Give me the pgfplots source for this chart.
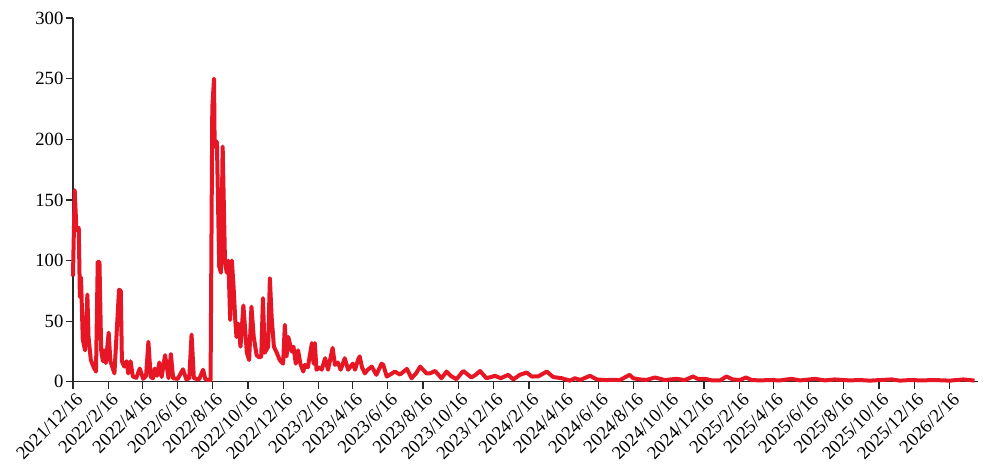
\documentclass[border=0pt]{standalone}
\usepackage{pgfplots}
\pgfplotsset{compat=1.18}
\usepackage{fontspec}
\setmainfont{Liberation Serif}
\definecolor{lineRed}{RGB}{230,22,36}
\definecolor{axisGray}{RGB}{40,40,40}

\begin{document}
\begin{tikzpicture}
\begin{axis}[
  scale only axis,
  width=679pt, height=273pt,
  xmin=0, xmax=1572,
  ymin=0, ymax=300,
  axis lines*=left,
  axis line style={axisGray, line width=0.9pt},
  ytick={0,50,...,300},
  xtick={0,62,121,182,243,304,365,427,486,547,608,669,730,792,852,913,974,1035,1096,1158,1217,1278,1339,1400,1461,1523},
  xticklabels={2021/12/16,2022/2/16,2022/4/16,2022/6/16,2022/8/16,2022/10/16,2022/12/16,2023/2/16,2023/4/16,2023/6/16,2023/8/16,2023/10/16,2023/12/16,2024/2/16,2024/4/16,2024/6/16,2024/8/16,2024/10/16,2024/12/16,2025/2/16,2025/4/16,2025/6/16,2025/8/16,2025/10/16,2025/12/16,2026/2/16},
  tick align=outside,
  major tick length=5pt,
  tick style={axisGray, line width=0.9pt},
  x tick label style={rotate=45, anchor=north east, inner sep=0.5pt, yshift=-2pt},
  y tick label style={inner sep=2pt},
  ticklabel style={font=\fontsize{14}{16}\selectfont},
  /pgf/number format/assume math mode=true,
  clip=false,
]
\addplot[lineRed, line width=3pt, line join=round] coordinates {
(0,87) (3,158) (6,125) (10,127) (12,70) (14,86) (17,35) (21,26) (25,72) (27,37)
(31,18) (36,12) (40,8.5) (43,99) (46,99) (49,26) (52,17) (54,26) (57,15.5) (62,40.6)
(65,17) (72,7) (80,76) (83,75) (85,17) (89,12.6) (93,17) (96,7) (100,17) (104,4.4)
(110,3.3) (116,11) (122,2.5) (127,5) (131,33) (135,4) (139,3) (142,11) (146,5) (150,16)
(154,4) (160,22) (166,3) (170,23) (174,3) (182,2.5) (191,10.4) (197,2) (202,3) (206,39)
(210,3) (219,2) (226,10) (230,2) (237,1.6) (239,1.5) (242,226) (245,250) (246,198) (249,193)
(250,198) (254,95) (257,90) (260,194) (264,100) (267,90) (270,100) (273,51) (276,100) (279,78)
(282,50) (284,37) (287,48) (291,29) (296,63) (302,24) (306,18) (310,62) (314,37) (319,22)
(324,20) (327,21) (330,69) (333,24) (339,29) (342,85.5) (345,54) (349,29) (354,24) (359,18)
(365,15) (368,47) (371,21) (374,37) (380,25) (383,29) (387,15) (391,26) (395,15) (400,8.5)
(403,14) (408,12) (415,32) (418,15) (420,32) (423,10) (429,12) (432,10) (438,19.5) (443,10)
(451,28) (455,14) (460,16) (465,10) (472,19.5) (478,10) (486,15) (490,10) (495,18) (498,21)
(502,12) (507,7) (512,10) (519,12.6) (527,5.8) (536,15) (539,14) (545,4.4) (551,6) (559,8.5)
(568,6) (580,10.7) (588,3) (596,7) (603,12.6) (614,7) (620,7) (629,9) (640,3) (649,8.5)
(656,5) (666,2.2) (678,9) (692,3.6) (700,6) (707,9) (718,3) (726,4) (733,5) (743,3)
(756,5.8) (765,2) (776,5.8) (788,7.7) (797,4.4) (808,4.5) (823,8.5) (834,4) (849,3) (863,1)
(872,3) (881,1.6) (898,5) (910,2) (924,1.5) (938,1.6) (950,1.5) (967,5.8) (973,3) (985,2)
(996,1.6) (1011,3.6) (1028,1.5) (1048,2.5) (1063,1.5) (1077,4.4) (1085,2.5) (1098,2.5) (1110,1.2) (1124,1.2)
(1135,4.4) (1146,2) (1158,1.5) (1169,3.6) (1179,1.5) (1193,1.2) (1211,1.5) (1228,1.2) (1248,2.5) (1263,1.2)
(1289,2.5) (1306,1.2) (1323,2) (1349,1.2) (1367,1.5) (1384,1) (1402,1.5) (1422,2) (1436,1) (1454,1.5)
(1474,1.2) (1497,1.5) (1523,1) (1546,2) (1558,1.5) (1566,1)
};
\end{axis}
\pgfresetboundingbox
\useasboundingbox ([shift={(-54.75pt,-65.25pt)}]current axis.south west) rectangle ([shift={(3.75pt,13.5pt)}]current axis.north east);
\end{tikzpicture}
\end{document}
